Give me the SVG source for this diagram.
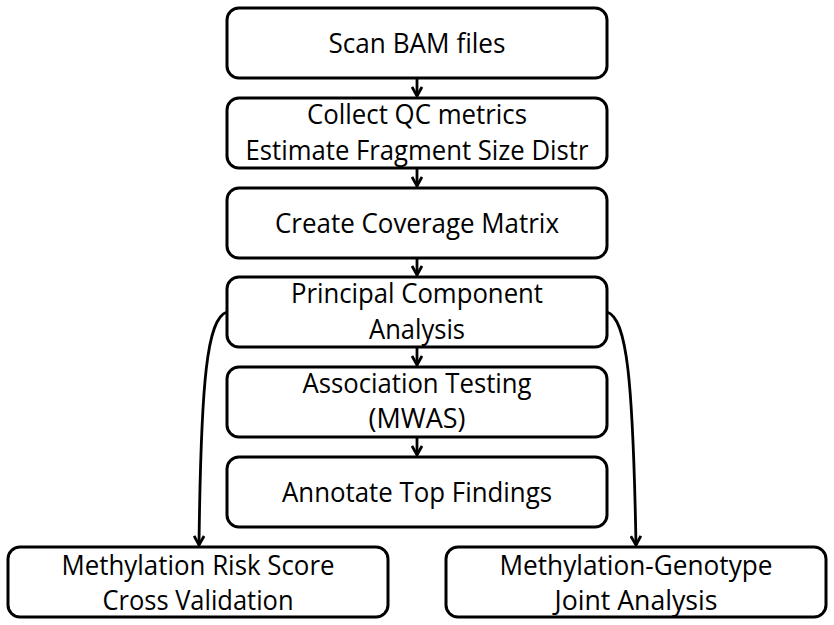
<svg xmlns="http://www.w3.org/2000/svg" width="834" height="625" viewBox="0 0 834 625">
<style>
.box{fill:#fff;stroke:#000;stroke-width:3}
.t{font-family:"Open Sans","Liberation Sans",sans-serif;font-size:27px;fill:#000;text-anchor:middle}
.c{fill:none;stroke:#000;stroke-width:2.8}
</style>
<defs>
<marker id="ah" viewBox="0 0 12 12" refX="10.5" refY="6" markerWidth="12" markerHeight="12" markerUnits="userSpaceOnUse" orient="auto">
<path d="M1.5,1 L10.5,6 L1.5,11" fill="none" stroke="#000" stroke-width="2.8"/>
</marker>
</defs>
<rect width="834" height="625" fill="#fff"/>
<g id="connectors">
<line class="c" x1="417" y1="79" x2="417" y2="96" marker-end="url(#ah)"/>
<line class="c" x1="417" y1="169" x2="417" y2="186" marker-end="url(#ah)"/>
<line class="c" x1="417" y1="259" x2="417" y2="275" marker-end="url(#ah)"/>
<line class="c" x1="417" y1="348" x2="417" y2="365" marker-end="url(#ah)"/>
<line class="c" x1="417" y1="438" x2="417" y2="455" marker-end="url(#ah)"/>
<path class="c" d="M227,312 C207,318 201,380 199,545" marker-end="url(#ah)"/>
<path class="c" d="M607,312 C627,318 633,380 636,545" marker-end="url(#ah)"/>
</g>
<g id="scan">
<rect class="box" x="227" y="8" width="380" height="70" rx="12"/>
<text class="t" x="417" y="53" textLength="177" lengthAdjust="spacingAndGlyphs">Scan BAM files</text>
</g>
<g id="qc">
<rect class="box" x="227" y="98" width="380" height="70" rx="12"/>
<text class="t" x="417" y="124" textLength="220" lengthAdjust="spacingAndGlyphs">Collect QC metrics</text>
<text class="t" x="417" y="160" textLength="343" lengthAdjust="spacingAndGlyphs">Estimate Fragment Size Distr</text>
</g>
<g id="coverage">
<rect class="box" x="227" y="188" width="380" height="70" rx="12"/>
<text class="t" x="417" y="233" textLength="284" lengthAdjust="spacingAndGlyphs">Create Coverage Matrix</text>
</g>
<g id="pca">
<rect class="box" x="227" y="277" width="380" height="70" rx="12"/>
<text class="t" x="417" y="303" textLength="252" lengthAdjust="spacingAndGlyphs">Principal Component</text>
<text class="t" x="417" y="339" textLength="96" lengthAdjust="spacingAndGlyphs">Analysis</text>
</g>
<g id="mwas">
<rect class="box" x="227" y="367" width="380" height="70" rx="12"/>
<text class="t" x="417" y="393" textLength="229" lengthAdjust="spacingAndGlyphs">Association Testing</text>
<text class="t" x="417" y="428" textLength="97" lengthAdjust="spacingAndGlyphs">(MWAS)</text>
</g>
<g id="annotate">
<rect class="box" x="227" y="457" width="380" height="70" rx="12"/>
<text class="t" x="417" y="502" textLength="270" lengthAdjust="spacingAndGlyphs">Annotate Top Findings</text>
</g>
<g id="mrs">
<rect class="box" x="8" y="547" width="380" height="70" rx="12"/>
<text class="t" x="198" y="575" textLength="273" lengthAdjust="spacingAndGlyphs">Methylation Risk Score</text>
<text class="t" x="198" y="610" textLength="191" lengthAdjust="spacingAndGlyphs">Cross Validation</text>
</g>
<g id="mgj">
<rect class="box" x="446" y="547" width="380" height="70" rx="12"/>
<text class="t" x="636" y="575" textLength="273" lengthAdjust="spacingAndGlyphs">Methylation-Genotype</text>
<text class="t" x="636" y="610" textLength="163" lengthAdjust="spacingAndGlyphs">Joint Analysis</text>
</g>
</svg>
